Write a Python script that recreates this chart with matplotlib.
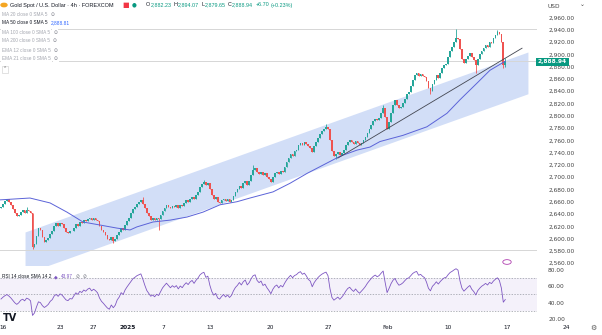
import numpy as np
import matplotlib.pyplot as plt
from matplotlib.transforms import blended_transform_factory

# 4h closes, Gold Spot / USD
closes = [
    2652, 2657, 2661, 2664, 2660, 2655, 2648, 2641, 2636, 2639,
    2644, 2646, 2642, 2647, 2645, 2641, 2586, 2591, 2604, 2617,
    2614, 2602, 2594, 2597, 2601, 2608, 2612, 2621, 2625, 2620,
    2626, 2623, 2617, 2611, 2609, 2613, 2612, 2618, 2624, 2621,
    2627, 2625, 2630, 2628, 2632, 2634, 2630, 2633, 2631, 2628,
    2620, 2614, 2610, 2605, 2600, 2597, 2602, 2596, 2599, 2606,
    2610, 2617, 2614, 2622, 2628, 2634, 2641, 2648, 2652, 2657,
    2660, 2663, 2657, 2649, 2641, 2636, 2631, 2633, 2630, 2634,
    2632, 2638, 2645, 2650, 2655, 2652, 2649, 2653, 2651, 2654,
    2650, 2655, 2653, 2658, 2662, 2660, 2665, 2668, 2665, 2671,
    2676, 2684, 2689, 2692, 2687, 2690, 2680, 2671, 2665, 2668,
    2660, 2658, 2662, 2665, 2661, 2664, 2660, 2663, 2670, 2676,
    2680, 2686, 2683, 2690, 2694, 2688, 2693, 2703, 2712, 2715,
    2708, 2705, 2709, 2703, 2706, 2701, 2697, 2692, 2700, 2706,
    2709, 2705, 2710, 2708, 2716, 2724, 2731, 2738, 2735, 2742,
    2745, 2752, 2756, 2753, 2757, 2754, 2750, 2748, 2741, 2750,
    2757, 2764, 2770, 2775, 2779, 2782, 2778, 2760, 2742, 2735,
    2738, 2741, 2736, 2740, 2745, 2752, 2758, 2761, 2757, 2754,
    2759, 2755, 2752, 2756, 2760, 2765, 2772, 2778, 2785, 2791,
    2795, 2793, 2797, 2805, 2813, 2798, 2779, 2790, 2805, 2818,
    2826, 2818, 2812, 2815, 2820, 2828, 2836, 2839, 2848, 2859,
    2866, 2870, 2864, 2868, 2865, 2863, 2856, 2845, 2840, 2852,
    2858, 2866, 2862, 2870, 2877, 2883, 2885, 2896, 2906, 2912,
    2920, 2927, 2925, 2908, 2893, 2886, 2892, 2898, 2903, 2895,
    2890, 2882, 2893, 2900, 2906, 2910, 2915, 2912, 2920, 2918,
    2926, 2932, 2937, 2933, 2920, 2882.23, 2888.94,
]
first_open = 2650
wick_highs = {13: 2651, 72: 2667, 103: 2696, 128: 2719, 165: 2787, 194: 2818,
              231: 2942, 252: 2940, 256: 2894.07}
wick_lows = {16: 2583, 57: 2592, 80: 2614, 170: 2730, 218: 2836, 241: 2870,
             255: 2878, 256: 2879.65}

# MA 50 line (bar index, value)
ma_bars = [-0.5, 14.7, 24.9, 33.5, 41.6, 50.3, 58.9, 65.5, 69, 77.2, 85.8, 94.4,
           102.5, 111.2, 119.8, 126.4, 138.1, 146.7, 155.3, 165.5, 172.1, 180.7,
           187.3, 192.4, 204, 216.2, 226.4, 233, 241.6, 248.2, 256]
ma_vals = [2663, 2666, 2658, 2643, 2627, 2622, 2617, 2614, 2619, 2627, 2630, 2635,
           2643, 2655, 2660, 2666, 2676, 2690, 2706, 2723, 2734, 2744,
           2749, 2758, 2768, 2782, 2804, 2826, 2853, 2874, 2888.81]

# drawings
channel_bars = [12.2, 267.5]
channel_top = [2610.7, 2903.8]
channel_height = 68
trend_bars = [171, 264.5]
trend_vals = [2731, 2910]
hlines = [2940.5, 2888.94, 2581.3]

price_ticks = list(range(2560, 2961, 20))
time_ticks = [1.0, 30, 46.7, 64.5, 82.2, 106.1, 136.5, 166, 196.4, 226.9, 256.9]
time_labels = ['16', '23', '27', '2025', '7', '13', '20', '27', 'Feb', '10', '17']

UP, DN = '#26a69a', '#ef5350'
FS = 4.2
SANS = ['Liberation Sans', 'DejaVu Sans']

c = np.array(closes, dtype=float)
o = np.concatenate([[first_open], c[:-1]])
hi = np.maximum(o, c)
lo = np.minimum(o, c)
for k, v in wick_highs.items():
    hi[k] = v
for k, v in wick_lows.items():
    lo[k] = v
x = np.arange(len(c))

fig = plt.figure(figsize=(6.02, 3.35), dpi=100)
W, H = 602, 335
ax = fig.add_axes([0, 1 - 266 / H, 537 / W, 266 / H])
rs = fig.add_axes([0, 1 - 322 / H, 537 / W, 56 / H])
renderer = fig.canvas.get_renderer()


def chain(x0, y, segs, size, gap=2.5, box=False):
    xp = x0
    for txt, color in segs:
        kw = {}
        if box:
            kw['bbox'] = dict(boxstyle='square,pad=0.25', fc='white', ec='none')
        t = fig.text(xp / W, 1 - y / H, txt, fontsize=size, color=color, va='center',
                     family=SANS, **kw)
        xp += t.get_window_extent(renderer=renderer).width + gap
    return xp


for a in (ax, rs):
    for s in a.spines.values():
        s.set_visible(False)
    a.set_xlim(-0.51, 272.1)

ax.set_ylim(2555.3, 2988.5)

# channel
cx = np.array(channel_bars)
ct = np.array(channel_top)
ax.fill_between(cx, ct - channel_height, ct, color='#c3d3f5', alpha=0.75, lw=0, zorder=1)

for v in hlines:
    ax.axhline(v, color='#d6d6d6', lw=0.7, zorder=1)

col = np.where(c >= o, UP, DN)
ax.vlines(x, lo, hi, colors=col, lw=0.6, zorder=3)
ax.bar(x, np.maximum(np.abs(c - o), 0.8), bottom=np.minimum(o, c), width=0.85,
       color=col, lw=0, zorder=4)

ax.plot(ma_bars, ma_vals, color='#5b63d8', lw=0.7, zorder=5)
ax.plot(trend_bars, trend_vals, color='#434651', lw=0.6, zorder=5)

ax.yaxis.tick_right()
ax.set_yticks(price_ticks)
ax.set_yticklabels([f'{v:,.2f}' for v in price_ticks], fontsize=FS, color='#444')
ax.tick_params(axis='y', length=0, pad=8)
ax.set_xticks([])

# price label
fig.text(538 / W, 1 - 62 / H, '2,888.94', fontsize=FS, color='white', va='center', ha='left',
         fontweight='bold', bbox=dict(boxstyle='square,pad=0.3', fc='#089981', ec='none'))
fig.text(547 / W, 1 - 6 / H, 'USD', fontsize=FS, color='#444', va='center')
fig.text(580 / W, 1 - 5 / H, '⌄', fontsize=FS, color='#444', va='center')

# legend
fig.patches.append(plt.Circle((4 / W, 1 - 5 / H), 0.005, transform=fig.transFigure,
                              color='#f5a623'))
chain(10, 5, [('Gold Spot / U.S. Dollar · 4h · FOREXCOM', '#131722')], 4.0)
fig.text(122 / W, 1 - 5 / H, '■', fontsize=5, color='#f23645', va='center')
fig.text(132 / W, 1 - 5 / H, '●', fontsize=4, color='#089981', va='center')
ohlc = [('O', '2,882.23'), ('H', '2,894.07'), ('L', '2,879.65'), ('C', '2,888.94')]
xp = 146
for lab, val in ohlc:
    xp = chain(xp, 5, [(lab, '#131722'), (val, '#089981')], 3.9, gap=0.3) + 2
chain(xp, 5, [('+6.70', '#089981'), ('(+0.23%)', '#089981')], 3.9, gap=1.5)

rows = [('MA 20 close 0 SMA 5', 14, False), ('MA 50 close 0 SMA 5', 23, True),
        ('MA 100 close 0 SMA 5', 32, False), ('MA 200 close 0 SMA 5', 41, False),
        ('EMA 12 close 0 SMA 5', 50, False), ('EMA 21 close 0 SMA 5', 59, False)]
for txt, py, act in rows:
    if act:
        chain(2, py, [(txt, '#131722'), ('2,888.81', '#2962ff')], 3.4, gap=3, box=True)
    else:
        chain(2, py, [(txt, '#a3a6af'), ('⊙', '#787b86')], 3.4, gap=3, box=True)
fig.text(3 / W, 1 - 69 / H, '⌃', fontsize=3.6, color='#555', va='center',
         bbox=dict(boxstyle='square,pad=0.2', fc='white', ec='#ccc', lw=0.4))

# RSI 14
d = np.diff(c)
g = np.clip(d, 0, None)
l = np.clip(-d, 0, None)
ag, al = 4.0, 5.0
rsi = [100 - 100 / (1 + ag / al)]
for gi, li in zip(g, l):
    ag = (ag * 13 + gi) / 14
    al = (al * 13 + li) / 14
    rsi.append(100 - 100 / (1 + ag / al))

rs.set_ylim(16.3, 84.9)
rs.axhspan(30, 70, color='#7e57c2', alpha=0.08, lw=0)
for v in (70, 50, 30):
    rs.axhline(v, color='#9598a1', lw=0.5, ls=(0, (2, 2)))
rs.plot(x, rsi, color='#7e57c2', lw=0.6)
rs.yaxis.tick_right()
rs.set_yticks([20, 40, 60, 80])
rs.set_yticklabels(['20.00', '40.00', '60.00', '80.00'], fontsize=FS, color='#444')
rs.tick_params(axis='y', length=0, pad=8)
rs.set_xticks(time_ticks)
rs.set_xticklabels(time_labels, fontsize=FS, color='#131722')
rs.tick_params(axis='x', length=0, pad=2)
rs.get_xticklabels()[3].set_fontweight('bold')
tr = blended_transform_factory(rs.transData, rs.transAxes)
rs.text(286.8, -0.06, '24', transform=tr, fontsize=FS, color='#131722', ha='center',
        va='top', clip_on=False)
fig.text(593 / W, 1 - 328 / H, '⚙', fontsize=5, color='#555', ha='center', va='center')

chain(2, 277, [('RSI 14 close SMA 14 2', '#131722'), ('◆', '#7e57c2'),
               ('43.97', '#7e57c2'), ('⊘', '#787b86'), ('⊘', '#787b86')], 3.4, gap=3)
fig.text(3 / W, 1 - 318 / H, 'TV', fontsize=7, fontweight='bold', color='#131722', va='center')

# alert icon
fig.patches.append(plt.Circle((507 / W, 1 - 262 / H), 0.007, transform=fig.transFigure,
                              fc='white', ec='#b03fb0', lw=0.6))

fig.savefig('out.png', dpi=100)
